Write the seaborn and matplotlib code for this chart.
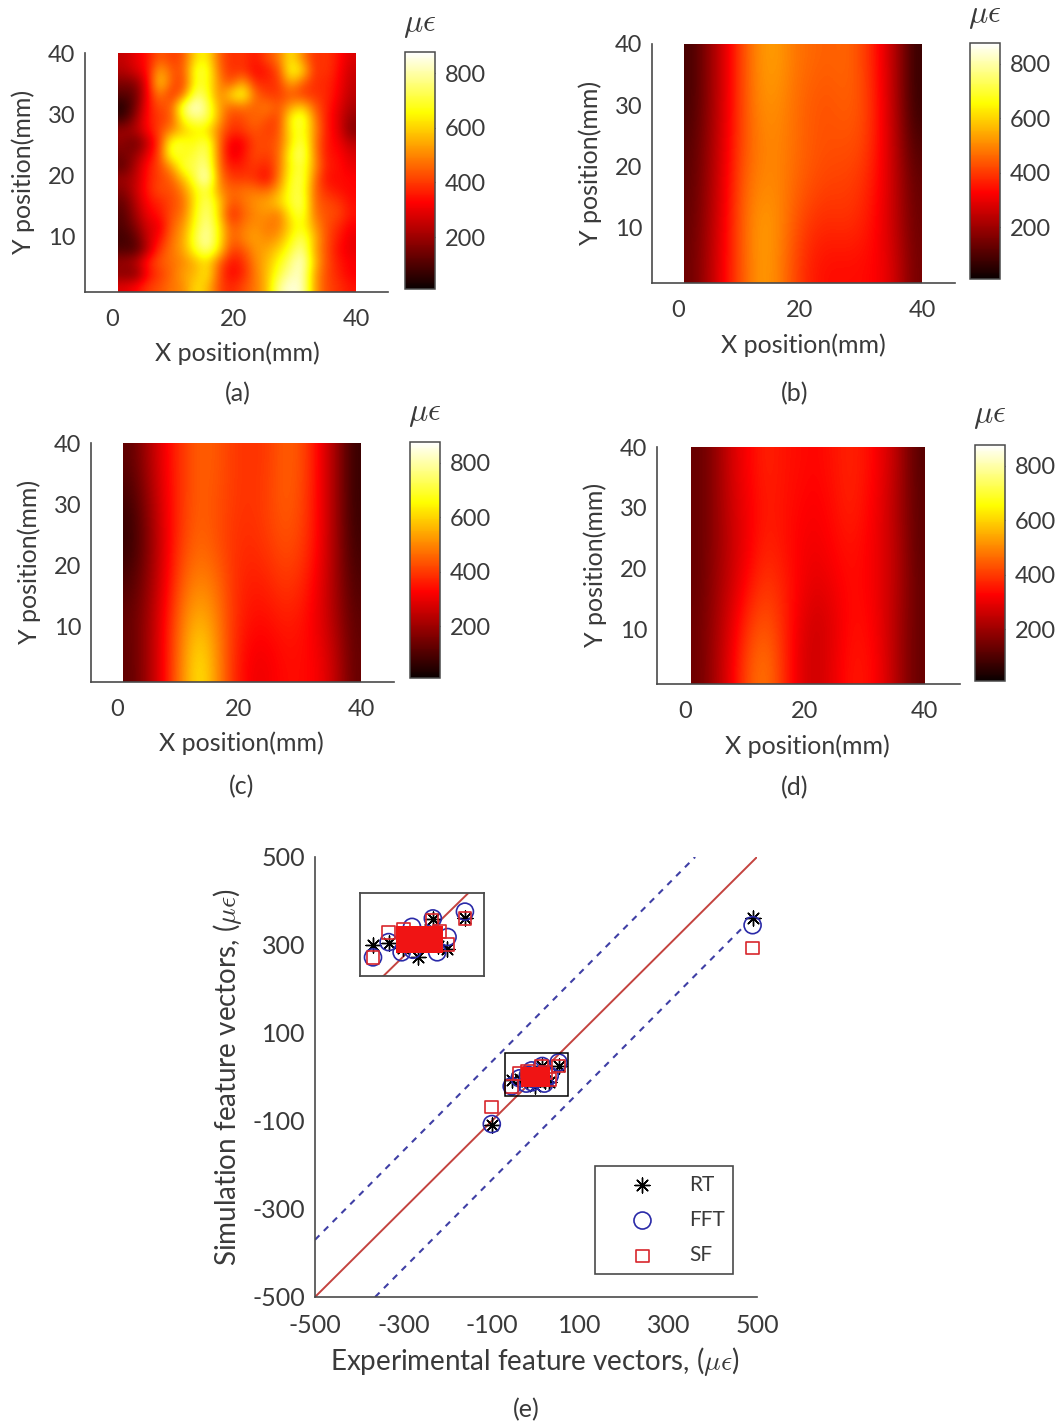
import numpy as np
import matplotlib
matplotlib.use("Agg")
import matplotlib.pyplot as plt
from matplotlib import transforms
from matplotlib.patches import Rectangle
import seaborn as sns

sns.set_theme(style="white")
plt.rcParams["font.family"] = ["Lato", "DejaVu Sans"]
plt.rcParams["mathtext.fontset"] = "cm"
plt.rcParams["axes.unicode_minus"] = False

W, H = 1061, 1425
INK = "#3a3a3a"
SPINE = "#4a4a4a"
TICK_FS = 17
LABEL_FS = 18

# Strain maps: rows run from y = 40 (top) to y = 1 (bottom), columns from x = 1 to x = 40
map_a = [
    [250,300,350,450,400,430,620,650,450,380,400,350,420,480,640,500,380,400,350,280],
    [230,280,340,560,440,430,700,700,470,380,400,330,350,420,680,620,380,400,340,260],
    [160,170,320,620,440,400,680,680,500,420,560,380,380,390,560,450,380,380,330,250],
    [110,130,330,500,380,470,760,700,480,620,700,470,400,400,440,400,390,380,320,240],
    [ 40,150,340,430,440,760,860,750,540,450,480,440,500,430,540,600,450,370,300,220],
    [ 80,200,350,400,430,680,760,740,540,400,420,470,430,400,660,740,500,360,290,190],
    [200,230,330,420,500,580,640,620,480,380,400,440,400,420,640,700,520,360,300,170],
    [180,130,250,400,700,690,660,740,470,300,320,420,420,440,620,740,500,350,320,240],
    [150,190,300,420,720,660,710,760,470,290,340,430,400,450,680,770,510,350,340,280],
    [120,230,350,420,520,720,720,800,470,350,370,400,360,460,660,720,530,360,350,300],
    [200,240,360,410,450,580,720,860,490,400,400,390,320,480,680,740,480,340,340,330],
    [170,260,360,430,420,500,650,720,520,450,480,480,460,540,700,720,460,380,350,330],
    [130,230,340,370,420,460,640,760,600,430,470,520,540,600,690,750,460,420,400,340],
    [110,210,310,350,430,480,660,780,600,360,450,500,520,470,650,720,480,430,420,350],
    [100,170,280,300,450,520,680,800,640,430,480,520,480,480,610,680,530,430,380,320],
    [ 80,120,260,340,470,540,720,820,650,440,500,540,500,530,650,750,570,430,360,300],
    [100,100,240,400,480,540,680,780,620,400,430,520,540,600,700,800,550,430,340,300],
    [200,240,370,440,470,500,560,620,460,340,380,500,560,660,760,850,580,430,360,320],
    [170,160,330,400,460,540,560,650,430,320,370,480,570,700,800,830,540,420,370,320],
    [290,330,400,430,480,500,620,580,420,370,420,480,560,780,850,830,540,420,390,350],
]
map_b = [
    [ 90,190,300,430,520,530,480,460,450,460,420,330,220, 70],
    [ 90,190,300,430,510,510,470,440,430,450,430,340,220, 70],
    [110,200,310,430,490,500,470,440,430,430,420,340,230,100],
    [120,210,320,450,500,500,460,430,410,410,390,330,240,130],
    [130,220,330,460,530,510,440,390,380,390,370,320,240,140],
    [140,230,340,450,530,500,420,360,340,340,340,320,260,150],
]
map_c = [
    [120,220,320,400,450,440,400,390,400,450,430,330,210, 70],
    [ 80,190,310,400,450,430,400,390,410,450,420,330,210, 70],
    [ 60,170,300,410,460,430,390,380,400,430,410,330,210, 80],
    [100,190,310,450,500,470,390,360,370,400,380,310,210,100],
    [130,210,340,490,570,500,390,340,340,360,350,300,220,120],
    [120,210,340,510,640,520,380,310,310,340,340,320,250,130],
]
map_d = [
    [130,190,280,330,370,350,340,330,350,370,350,300,220,110],
    [130,190,270,320,360,350,330,320,340,370,340,290,210,120],
    [130,190,260,320,370,350,320,310,330,350,330,290,220,120],
    [130,200,270,350,400,370,320,290,310,340,330,290,220,130],
    [140,210,300,400,440,380,300,260,290,340,340,290,210,130],
    [140,220,320,440,480,390,290,260,300,350,350,300,210,130],
]
strain_min, strain_max = 10, 877
map_x_ticks = [0, 20, 40]
map_y_ticks = [10, 20, 30, 40]
cbar_ticks = [200, 400, 600, 800]

# Scatter panel
limits = [-500, 500]
upper_x, upper_y = [-500, 360], [-370, 500]
lower_x, lower_y = [-364, 470], [-500, 342]
scatter_ticks = [-500, -300, -100, 100, 300, 500]
rt_x = [490, -100, -55, -37, 14, 51, 30, -3, -15, 0, 10, -20, 20, 5]
rt_y = [362, -110, -6, -4, 24, 25, -11, -21, 0, 5, -5, -10, -8, 10]
fft_x = [490, -100, -55, -37, -10, 14, 51, 31, -22, 19, -9, -18, 0, 10, -5]
fft_y = [345, -107, -21, -3, 15, 25, 33, 3, -15, -15, -12, 5, 0, 5, -5]
sf_x = [490, -100, -55, -37, 13, 51, 31, -20, 22]
sf_y = [293, -68, -21, 8, 23, 25, -6, 12, 10]
sf_core_x = [-21, -21, -21, -21, -8, -8, -8, -8, 6, 6, 6, 6, 19, 19, 19, 19]
sf_core_y = [-9, -3, 3, 9, -9, -3, 3, 9, -9, -3, 3, 9, -9, -3, 3, 9]
zoom_xlim = [-70, 73]
zoom_ylim = [-43, 55]

fig = plt.figure(figsize=(W / 100, H / 100), dpi=100, facecolor="white")
px = transforms.Affine2D().scale(1 / W, -1 / H).translate(0, 1) + fig.transFigure


def axes_px(x0, y0, x1, y1, **kw):
    return fig.add_axes([x0 / W, 1 - y1 / H, (x1 - x0) / W, (y1 - y0) / H], **kw)


def put(x, y, s, **kw):
    kw.setdefault("color", INK)
    kw.setdefault("fontsize", LABEL_FS)
    fig.text(x, y, s, transform=px, ha="center", va="center", **kw)


def style_axis(ax, size=TICK_FS):
    for name in ("top", "right"):
        ax.spines[name].set_visible(False)
    for name in ("left", "bottom"):
        ax.spines[name].set_color(SPINE)
        ax.spines[name].set_linewidth(1.2)
    ax.tick_params(axis="both", direction="in", length=3, width=1, color=SPINE,
                   labelsize=size, labelcolor=INK)
    ax.tick_params(axis="x", pad=12)
    ax.tick_params(axis="y", pad=7)


def strain_panel(data, letter, box, x_range, cbar_box, xlab, ylab, cap, unit):
    x0, y0, x1, y1 = box
    ax = axes_px(x0, y0, x1, y1)
    ax.set_facecolor("none")
    im = ax.imshow(np.array(data, float), cmap="hot", vmin=strain_min, vmax=strain_max,
                   extent=(1, 40, 1, 40), origin="upper", aspect="auto",
                   interpolation="bicubic")
    ax.set_xlim(*x_range)
    ax.set_ylim(1, 40)
    ax.set_xticks(map_x_ticks)
    ax.set_yticks(map_y_ticks)
    style_axis(ax)
    ax.set_xlabel("X position(mm)", fontsize=LABEL_FS, color=INK)
    ax.set_ylabel("Y position(mm)", fontsize=LABEL_FS, color=INK)
    ax.xaxis.set_label_coords(*xlab, transform=px)
    ax.yaxis.set_label_coords(*ylab, transform=px)
    ax.xaxis.label.set_va("center")
    ax.yaxis.label.set_va("center")
    cax = axes_px(*cbar_box)
    cb = fig.colorbar(im, cax=cax, ticks=cbar_ticks)
    cb.outline.set_edgecolor(SPINE)
    cb.outline.set_linewidth(1.1)
    cax.tick_params(direction="in", length=2.5, width=0.8, color=SPINE, labelsize=TICK_FS,
                    labelcolor=INK, pad=7)
    put(*unit, r"$\mu\epsilon$", fontsize=23)
    put(*cap, f"({letter})")


strain_panel(map_a, "a", (85, 53, 388, 292), (-4.43, 45.25), (405, 52, 435, 289),
             (237, 353), (23, 172), (238, 394), (420, 25))
strain_panel(map_b, "b", (652, 44, 955, 283), (-4.26, 45.4), (970, 43, 1000, 279),
             (803, 345), (590, 163), (795, 394), (985, 16))
strain_panel(map_c, "c", (91, 443, 394, 682), (-4.26, 45.4), (410, 442, 440, 678),
             (241, 743), (29, 562), (242, 787), (425, 414))
strain_panel(map_d, "d", (657, 447, 960, 684), (-4.69, 46.0), (975, 445, 1005, 681),
             (807, 746), (595, 565), (795, 788), (990, 416))


def draw_scatter(ax, clip):
    lw = 1.2
    sns.lineplot(x=upper_x, y=upper_y, ax=ax, color="#3f3fa5", lw=1.5,
                 linestyle=(0, (3, 3)), errorbar=None)
    sns.lineplot(x=lower_x, y=lower_y, ax=ax, color="#3f3fa5", lw=1.5,
                 linestyle=(0, (3, 3)), errorbar=None)
    sns.lineplot(x=limits, y=limits, ax=ax, color="#c4433f", lw=1.4, errorbar=None)
    sns.scatterplot(x=rt_x, y=rt_y, ax=ax, marker=(8, 2, 0), s=115, color="black",
                    linewidth=1.0, label="RT", zorder=4, clip_on=clip)
    sns.scatterplot(x=fft_x, y=fft_y, ax=ax, marker="o", s=150, facecolor="none",
                    edgecolor="#2a2aa8", linewidth=lw, label="FFT", zorder=5, clip_on=clip)
    sns.scatterplot(x=sf_x, y=sf_y, ax=ax, marker="s", s=85, facecolor="none",
                    edgecolor="#d8262c", linewidth=lw, label="SF", zorder=6, clip_on=clip)
    sns.scatterplot(x=sf_core_x, y=sf_core_y, ax=ax, marker="s", s=85, color="#f01414",
                    linewidth=0, zorder=6, clip_on=clip)


ax = axes_px(315, 857, 757, 1297)
ax.set_facecolor("none")
draw_scatter(ax, False)
ax.set_xlim(*limits)
ax.set_ylim(*limits)
ax.set_xticks(scatter_ticks)
ax.set_yticks(scatter_ticks)
style_axis(ax, 18)
ax.set_xlabel(r"Experimental feature vectors, ($\mu\epsilon$)", fontsize=20, color=INK)
ax.set_ylabel(r"Simulation feature vectors, ($\mu\epsilon$)", fontsize=20, color=INK)
ax.xaxis.set_label_coords(535, 1362, transform=px)
ax.yaxis.set_label_coords(228, 1077, transform=px)
ax.xaxis.label.set_va("center")
ax.yaxis.label.set_va("center")
ax.add_patch(Rectangle((zoom_xlim[0], zoom_ylim[0]), zoom_xlim[1] - zoom_xlim[0],
                       zoom_ylim[1] - zoom_ylim[0], fill=False, ec="black", lw=1.1, zorder=7))
handles, labels = ax.get_legend_handles_labels()
leg = ax.legend(handles[:3], labels[:3], loc="center", bbox_to_anchor=(664, 1220),
                bbox_transform=px, fontsize=15, frameon=True, fancybox=False,
                edgecolor=SPINE, framealpha=1, labelspacing=0.74, borderpad=0.4,
                handletextpad=0.35, borderaxespad=0, handlelength=3.8, labelcolor=INK)
leg.get_frame().set_linewidth(1.2)
put(526, 1410, "(e)")

inset = axes_px(360, 893, 484, 976)
draw_scatter(inset, True)
inset.get_legend().remove()
inset.set_xlim(*zoom_xlim)
inset.set_ylim(*zoom_ylim)
inset.set_xticks([])
inset.set_yticks([])
for s in inset.spines.values():
    s.set_color(SPINE)
    s.set_linewidth(1.3)
    s.set_visible(True)

fig.savefig("out.png", dpi=100, facecolor="white")
